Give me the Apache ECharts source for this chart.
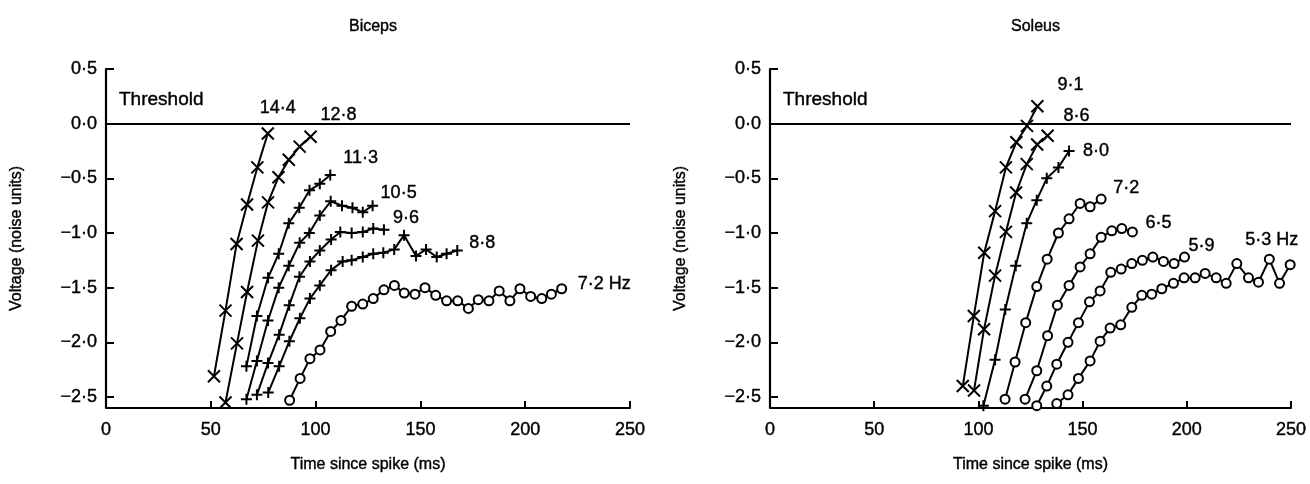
<!DOCTYPE html>
<title>threshold approach</title>
<style>
body {
    margin: 0;
    background: #fff;
}
#echart {
    height: 484px;
    width: 1310px;
}
</style>
<div id='echart'></div>
<script src='https://cdn.jsdelivr.net/npm/echarts@6/dist/echarts.min.js'></script>
<script>
// [time since spike (ms), voltage (noise units)]
let biceps_14_4 = [[51.5,-2.31],[57,-1.71],[62.3,-1.10],[67.3,-0.74],[72.2,-0.40],[77.2,-0.09]]
let biceps_12_8 = [[57,-2.55],[62.5,-2.01],[67.3,-1.54],[72.5,-1.07],[77.3,-0.72],[82.3,-0.49],[87.2,-0.33],[92.4,-0.21],[97.6,-0.12]]
let biceps_11_3 = [[67,-2.22],[72,-1.76],[77.3,-1.41],[82.4,-1.19],[87.2,-0.91],[92.2,-0.77],[97.1,-0.61],[102,-0.55],[107,-0.47]]
let biceps_10_5 = [[67,-2.52],[72,-2.17],[77.3,-1.80],[82.4,-1.50],[87.2,-1.30],[92.4,-1.09],[97,-1.00],[102,-0.84],[107.2,-0.71],[112.6,-0.75],[117.6,-0.77],[122.5,-0.81],[127.2,-0.75]]
let biceps_9_6 = [[72,-2.48],[77.3,-2.19],[82.6,-1.93],[87.4,-1.66],[92.3,-1.40],[97.3,-1.26],[102,-1.16],[107.4,-1.06],[111.8,-0.99],[117.2,-1.00],[122.5,-0.99],[127.5,-0.96],[132.6,-0.97]]
let biceps_8_8 = [[77.4,-2.46],[82.6,-2.22],[87.5,-1.99],[92.5,-1.78],[97.3,-1.60],[102,-1.48],[107.4,-1.34],[112.9,-1.26],[117.2,-1.25],[122.5,-1.22],[127.5,-1.19],[132.3,-1.18],[137.5,-1.15],[142.2,-1.02],[147.9,-1.21],[152.7,-1.15],[157.8,-1.22],[162.5,-1.19],[167.6,-1.16]]
let biceps_7_2 = [[87.6,-2.53],[92.6,-2.33],[97.3,-2.15],[102.1,-2.07],[107.2,-1.90],[112.1,-1.80],[117.2,-1.67],[122.5,-1.65],[127.5,-1.60],[132.6,-1.52],[137.6,-1.48],[142.3,-1.55],[147.4,-1.56],[152.2,-1.50],[157.3,-1.57],[162.5,-1.62],[167.8,-1.62],[172.9,-1.69],[177.6,-1.61],[182.7,-1.62],[187.6,-1.53],[192.7,-1.62],[197.5,-1.51],[202.6,-1.58],[207.9,-1.60],[212.5,-1.56],[217.4,-1.51]]

let soleus_9_1 = [[92.5,-2.40],[97.8,-1.76],[102.8,-1.18],[108,-0.80],[113.2,-0.40],[118.2,-0.17],[123.3,-0.02],[128.3,0.16]]
let soleus_8_6 = [[97.9,-2.44],[102.7,-1.88],[108,-1.39],[113.2,-0.99],[118.1,-0.63],[123.2,-0.37],[128.2,-0.19],[133.2,-0.11]]
let soleus_8_0 = [[102.4,-2.58],[108,-2.16],[112.9,-1.70],[117.9,-1.30],[123.2,-0.91],[128,-0.70],[132.8,-0.50],[138.4,-0.40],[143.5,-0.25]]
let soleus_7_2 = [[112.8,-2.52],[117.6,-2.18],[122.7,-1.82],[128,-1.49],[133,-1.24],[138.4,-1.00],[143.5,-0.87],[148.8,-0.73],[153.6,-0.76],[158.9,-0.69]]
let soleus_6_5 = [[122.4,-2.52],[128,-2.26],[133.2,-1.94],[137.9,-1.66],[143.5,-1.48],[148.8,-1.31],[153.6,-1.19],[158.9,-1.04],[164,-0.98],[168.8,-0.96],[173.9,-0.99]]
let soleus_5_9 = [[128,-2.58],[132.8,-2.40],[137.6,-2.20],[143,-2.00],[148,-1.82],[153.3,-1.63],[158.4,-1.53],[163.5,-1.36],[168.5,-1.33],[173.6,-1.28],[178.7,-1.25],[183.7,-1.22],[188.8,-1.26],[193.9,-1.28],[198.9,-1.22]]
let soleus_5_3 = [[137.6,-2.56],[143,-2.48],[148,-2.33],[153.6,-2.17],[158.4,-1.99],[163.2,-1.87],[168.3,-1.84],[173.6,-1.68],[178.4,-1.57],[183.2,-1.56],[188,-1.51],[193.6,-1.46],[198.7,-1.41],[204,-1.41],[208.8,-1.37],[214.1,-1.41],[218.9,-1.46],[224,-1.28],[229.6,-1.41],[234.4,-1.45],[239.6,-1.24],[244.5,-1.46],[249.6,-1.29]]

let titles = ['Biceps', 'Soleus']
let threshold = 0
let y_ticks = [-2.5, -2, -1.5, -1, -0.5, 0, 0.5]

let FONT = '"Liberation Sans", Arial, sans-serif'
let CROSS = 'path://M0,0L10,10M10,0L0,10'
let PLUS = 'path://M5,0L5,10M0,5L10,5'

function fmt(v) {
    let s = Math.abs(v).toFixed(1).replace('.', '\u00b7')
    return v < 0 ? '\u2212' + s : s
}

// the scanned lettering is heavier than a plain regular face
let text = {color: '#000', fontFamily: FONT, textBorderColor: '#000', textBorderWidth: 0.4}

function curve(grid, data, symbol, size, label, offset) {
    return {
        type: 'line',
        xAxisIndex: grid,
        yAxisIndex: grid,
        data,
        symbol,
        symbolSize: size,
        showSymbol: true,
        silent: true,
        lineStyle: {color: '#000', width: 2},
        itemStyle: {color: '#000', borderColor: '#000', borderWidth: 2},
        emphasis: {disabled: true},
        endLabel: {show: true, formatter: label, offset, ...text, fontSize: 18},
    }
}

function threshold_line(grid) {
    return {
        type: 'line',
        xAxisIndex: grid,
        yAxisIndex: grid,
        data: [],
        silent: true,
        markLine: {
            silent: true,
            symbol: ['none', 'none'],
            data: [{yAxis: threshold}],
            lineStyle: {color: '#000', width: 2.2, type: 'solid'},
            label: {show: true, position: 'insideStartTop', formatter: 'Threshold', distance: [13, 8], ...text, fontSize: 19},
            emphasis: {disabled: true},
        },
    }
}

let grids = [
    {left: 106, width: 524, top: 69, height: 358},
    {left: 770, width: 521, top: 69, height: 358},
]

let xAxis = grids.map((g, i) => ({
    gridIndex: i,
    type: 'value',
    min: 0,
    max: 250,
    interval: 50,
    name: 'Time since spike (ms)',
    nameLocation: 'middle',
    nameGap: 36,
    nameTextStyle: {...text, fontSize: 16},
    axisLine: {onZero: false, lineStyle: {color: '#000', width: 2.2}},
    axisTick: {inside: true, length: 7, lineStyle: {color: '#000', width: 2}},
    axisLabel: {...text, fontSize: 18, margin: 7},
    splitLine: {show: false},
}))

let yAxis = grids.map((g, i) => ({
    gridIndex: i,
    type: 'value',
    min: -2.6,
    max: 0.5,
    name: 'Voltage (noise units)',
    nameLocation: 'middle',
    nameGap: 76,
    nameTextStyle: {...text, fontSize: 16},
    axisLine: {onZero: false, lineStyle: {color: '#000', width: 2.2}},
    axisTick: {inside: true, length: 8, customValues: y_ticks, lineStyle: {color: '#000', width: 2}},
    axisLabel: {...text, fontSize: 18, margin: 9, customValues: y_ticks, formatter: fmt},
    splitLine: {show: false},
}))

let option = {
    animation: false,
    title: titles.map((t, i) => ({
        text: t,
        left: grids[i].left + grids[i].width / 2,
        textAlign: 'center',
        top: 8,
        textStyle: {...text, fontSize: 16, fontWeight: 'normal'},
    })),
    grid: grids,
    xAxis,
    yAxis,
    series: [
        threshold_line(0),
        curve(0, biceps_14_4, CROSS, 12, '14\u00b74', [-16, -25]),
        curve(0, biceps_12_8, CROSS, 12, '12\u00b78', [2, -22]),
        curve(0, biceps_11_3, PLUS, 11, '11\u00b73', [5, -17]),
        curve(0, biceps_10_5, PLUS, 11, '10\u00b75', [0, -13]),
        curve(0, biceps_9_6, PLUS, 11, '9\u00b76', [1, -12]),
        curve(0, biceps_8_8, PLUS, 11, '8\u00b78', [4, -7]),
        curve(0, biceps_7_2, 'emptyCircle', 9, '7\u00b72 Hz', [8, -5]),
        threshold_line(1),
        curve(1, soleus_9_1, CROSS, 12, '9\u00b71', [12, -21]),
        curve(1, soleus_8_6, CROSS, 12, '8\u00b76', [8, -20]),
        curve(1, soleus_8_0, PLUS, 11, '8\u00b70', [6, 0]),
        curve(1, soleus_7_2, 'emptyCircle', 9, '7\u00b72', [4, -11]),
        curve(1, soleus_6_5, 'emptyCircle', 9, '6\u00b75', [5, -9]),
        curve(1, soleus_5_9, 'emptyCircle', 9, '5\u00b79', [-4, -11]),
        curve(1, soleus_5_3, 'emptyCircle', 9, '5\u00b73 Hz', [-53, -25]),
    ],
}

let echart = echarts.init(document.querySelector('#echart'))
echart.setOption(option)
</script>
